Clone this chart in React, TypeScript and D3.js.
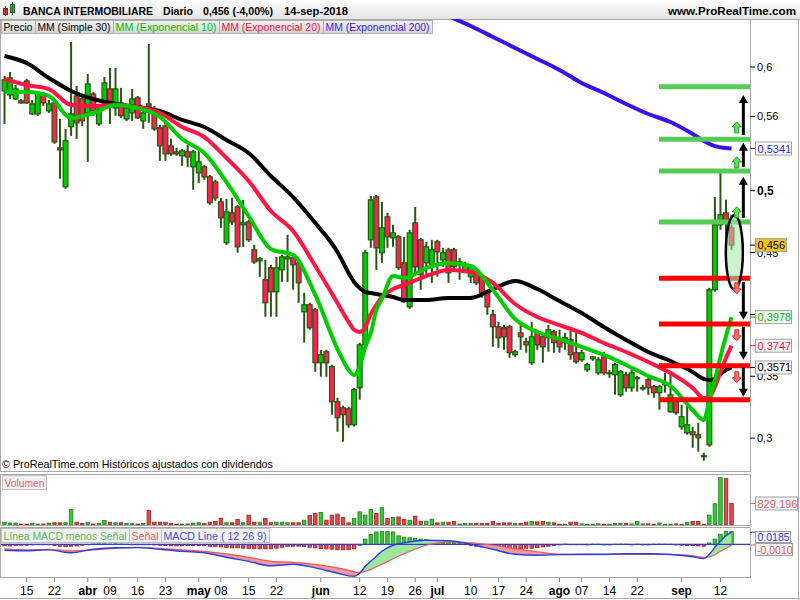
import React from "react";
import * as d3 from "d3";

// ---------- DATA ----------
const openP = [0.5807,0.5774,0.5742,0.5726,0.5888,0.5621,0.5621,0.5782,0.5645,0.5710,0.5346,0.5031,0.5517,0.5766,0.5742,0.5629,0.5782,0.5540,0.5710,0.5823,0.5669,0.5710,0.5580,0.5629,0.5750,0.5564,0.5702,0.5653,0.5508,0.5524,0.5362,0.5314,0.5282,0.5314,0.5193,0.5144,0.5193,0.5112,0.5071,0.4910,0.4579,0.4821,0.4869,0.4724,0.4748,0.4522,0.4433,0.4280,0.4377,0.4183,0.4360,0.4449,0.4457,0.4417,0.4021,0.4078,0.4037,0.3609,0.3698,0.3577,0.3294,0.3245,0.3237,0.3108,0.3407,0.3754,0.4603,0.4950,0.4498,0.4789,0.4619,0.4627,0.4417,0.4061,0.4740,0.4603,0.4417,0.4401,0.4587,0.4441,0.4522,0.4522,0.4401,0.4360,0.4304,0.4344,0.4304,0.4175,0.3997,0.3900,0.3892,0.3900,0.3674,0.3851,0.3779,0.3609,0.3859,0.3819,0.3811,0.3859,0.3795,0.3771,0.3795,0.3690,0.3633,0.3552,0.3641,0.3528,0.3657,0.3520,0.3512,0.3350,0.3512,0.3407,0.3480,0.3399,0.3472,0.3415,0.3367,0.3431,0.3213,0.3294,0.3092,0.3043,0.3051,0.3027,0.2858,0.2946,0.4199,0.4724,0.4821,0.4700];
const highP = [0.5928,0.5960,0.5855,0.5742,0.5904,0.5734,0.5799,0.5799,0.5734,0.5726,0.5581,0.5500,0.6203,0.5847,0.5774,0.5944,0.5799,0.5686,0.5920,0.5993,0.5993,0.5831,0.5702,0.5823,0.5766,0.5645,0.6186,0.5686,0.5532,0.5556,0.5419,0.5346,0.5338,0.5370,0.5330,0.5330,0.5209,0.5128,0.5088,0.4942,0.4934,0.4942,0.4886,0.4926,0.4764,0.4562,0.4465,0.4441,0.4401,0.4465,0.4482,0.4643,0.4474,0.4441,0.4175,0.4094,0.4053,0.3714,0.3714,0.3593,0.3326,0.3262,0.3253,0.3407,0.3771,0.4522,0.4958,0.4966,0.4910,0.4821,0.4724,0.4643,0.4627,0.4684,0.4869,0.4619,0.4587,0.4603,0.4603,0.4538,0.4538,0.4538,0.4457,0.4425,0.4401,0.4360,0.4320,0.4199,0.4037,0.3940,0.3916,0.3916,0.3714,0.3932,0.3811,0.3940,0.3876,0.3835,0.3916,0.3876,0.3876,0.3851,0.3876,0.3851,0.3714,0.3609,0.3665,0.3657,0.3698,0.3552,0.3609,0.3552,0.3536,0.3552,0.3504,0.3431,0.3488,0.3431,0.3431,0.3528,0.3512,0.3326,0.3270,0.3270,0.3092,0.3124,0.2882,0.4215,0.4950,0.5144,0.4926,0.4805];
const lowP = [0.5540,0.5742,0.5734,0.5702,0.5702,0.5613,0.5605,0.5686,0.5629,0.5379,0.5096,0.5015,0.5443,0.5419,0.5524,0.5233,0.5605,0.5524,0.5686,0.5540,0.5605,0.5589,0.5564,0.5564,0.5580,0.5500,0.5548,0.5484,0.5241,0.5241,0.5282,0.5282,0.5201,0.5193,0.5007,0.5063,0.5088,0.4886,0.4918,0.4700,0.4562,0.4724,0.4498,0.4546,0.4587,0.4409,0.4304,0.3981,0.3981,0.3981,0.4263,0.4263,0.4199,0.4094,0.3771,0.3876,0.3536,0.3496,0.3496,0.3189,0.3051,0.2971,0.3084,0.3092,0.3310,0.3738,0.4538,0.4360,0.4417,0.4538,0.4546,0.4360,0.4094,0.4045,0.4320,0.4199,0.4320,0.4255,0.4304,0.4385,0.4255,0.4360,0.4280,0.4336,0.4255,0.4239,0.4134,0.3997,0.3738,0.3730,0.3714,0.3649,0.3657,0.3714,0.3690,0.3593,0.3714,0.3609,0.3698,0.3690,0.3690,0.3714,0.3633,0.3601,0.3617,0.3536,0.3625,0.3512,0.3512,0.3488,0.3350,0.3334,0.3375,0.3375,0.3375,0.3383,0.3350,0.3326,0.3229,0.3367,0.3205,0.3189,0.3068,0.3027,0.2922,0.2890,0.2817,0.2930,0.4183,0.4684,0.4603,0.4522];
const closeP = [0.5896,0.5912,0.5823,0.5710,0.5710,0.5702,0.5791,0.5710,0.5702,0.5395,0.5330,0.5403,0.5621,0.5548,0.5564,0.5863,0.5645,0.5661,0.5871,0.5710,0.5823,0.5605,0.5669,0.5742,0.5589,0.5629,0.5669,0.5500,0.5362,0.5298,0.5298,0.5298,0.5322,0.5273,0.5314,0.5233,0.5112,0.4902,0.4942,0.4781,0.4829,0.4748,0.4546,0.4740,0.4603,0.4425,0.4449,0.4094,0.4183,0.4377,0.4465,0.4465,0.4401,0.4255,0.4078,0.3892,0.3609,0.3674,0.3609,0.3294,0.3165,0.3189,0.3108,0.3391,0.3754,0.4498,0.4926,0.4538,0.4700,0.4627,0.4659,0.4377,0.4102,0.4659,0.4385,0.4320,0.4546,0.4522,0.4506,0.4498,0.4336,0.4385,0.4425,0.4401,0.4385,0.4255,0.4175,0.4061,0.3900,0.3811,0.3819,0.3690,0.3698,0.3819,0.3754,0.3819,0.3754,0.3738,0.3876,0.3771,0.3738,0.3811,0.3674,0.3617,0.3690,0.3593,0.3657,0.3633,0.3528,0.3528,0.3593,0.3536,0.3407,0.3528,0.3488,0.3407,0.3407,0.3367,0.3415,0.3447,0.3350,0.3205,0.3173,0.3108,0.3027,0.3003,0.2849,0.4199,0.4724,0.4805,0.4750,0.4560];
const volume = [79000,60000,60000,15000,15000,55000,15000,20000,55000,70000,70000,70000,590000,90000,45000,90000,15000,45000,160000,90000,70000,70000,45000,45000,15000,45000,560000,90000,90000,90000,45000,15000,15000,20000,55000,70000,40000,90000,120000,250000,70000,70000,200000,70000,370000,90000,90000,240000,70000,90000,90000,70000,70000,70000,170000,355000,435000,470000,170000,370000,410000,275000,65000,240000,500000,370000,590000,435000,660000,240000,275000,300000,200000,170000,330000,130000,130000,210000,65000,90000,90000,120000,15000,40000,40000,40000,40000,40000,120000,40000,65000,65000,40000,40000,90000,120000,105000,120000,90000,65000,10000,10000,90000,90000,25000,10000,10000,25000,10000,10000,40000,40000,40000,25000,120000,25000,25000,10000,65000,10000,10000,25000,10000,90000,120000,120000,10000,370000,820000,1850000,1810000,829196];
const histogram = [-0.0023,-0.0025,-0.0020,-0.0015,-0.0015,-0.0010,-0.0005,-0.0003,-0.0008,-0.0020,-0.0030,-0.0035,-0.0030,-0.0025,-0.0015,-0.0008,0.0005,0.0008,0.0008,0.0005,0.0008,0.0005,0.0003,-0.0003,-0.0005,-0.0003,-0.0005,-0.0010,-0.0015,-0.0020,-0.0023,-0.0025,-0.0023,-0.0023,-0.0020,-0.0020,-0.0023,-0.0030,-0.0035,-0.0040,-0.0050,-0.0055,-0.0055,-0.0060,-0.0065,-0.0068,-0.0070,-0.0070,-0.0070,-0.0060,-0.0045,-0.0035,-0.0030,-0.0030,-0.0035,-0.0045,-0.0055,-0.0065,-0.0070,-0.0075,-0.0085,-0.0085,-0.0085,-0.0070,-0.0015,0.0080,0.0150,0.0190,0.0195,0.0195,0.0190,0.0130,0.0110,0.0100,0.0090,0.0080,0.0070,0.0060,0.0050,0.0040,0.0030,0.0020,0.0010,0.0003,-0.0020,-0.0030,-0.0040,-0.0050,-0.0060,-0.0070,-0.0080,-0.0080,-0.0080,-0.0070,-0.0060,-0.0060,-0.0050,-0.0040,-0.0030,-0.0020,-0.0010,0.0003,-0.0005,-0.0005,-0.0005,-0.0010,0.0003,0.0003,-0.0010,-0.0010,0.0003,0.0003,0.0003,-0.0010,0.0003,-0.0010,-0.0010,0.0003,0.0003,0.0003,0.0002,-0.0010,-0.0015,-0.0020,-0.0020,-0.0025,-0.0030,0.0020,0.0080,0.0155,0.0200,0.0195];

const maIdx = [0,4,8,12,16,20,24,28,32,36,40,44,48,52,56,60,62,63,64,65,66,67,68,70,72,76,80,84,88,92,96,100,104,108,112,116,120,124,126,127,128,129,130,131];
const ema10 = [0.5798,0.5798,0.5766,0.5588,0.5628,0.5693,0.5669,0.5596,0.5418,0.5305,0.5070,0.4795,0.4529,0.4480,0.4157,0.3720,0.3551,0.3510,0.3575,0.3737,0.3850,0.4036,0.4124,0.4310,0.4294,0.4375,0.4416,0.4391,0.4197,0.3963,0.3858,0.3801,0.3737,0.3672,0.3591,0.3502,0.3421,0.3227,0.3146,0.3308,0.3470,0.3656,0.3825,0.3978];
const ema20 = [0.5903,0.5854,0.5822,0.5693,0.5685,0.5693,0.5677,0.5628,0.5515,0.5434,0.5264,0.5078,0.4836,0.4674,0.4391,0.4092,0.3939,0.3874,0.3858,0.3898,0.4003,0.4076,0.4141,0.4205,0.4238,0.4310,0.4359,0.4343,0.4254,0.4084,0.3979,0.3914,0.3850,0.3769,0.3696,0.3615,0.3526,0.3405,0.3324,0.3332,0.3413,0.3534,0.3648,0.3747];
const sma30 = [0.6089,0.6032,0.5911,0.5806,0.5741,0.5701,0.5677,0.5644,0.5572,0.5515,0.5410,0.5305,0.5119,0.4949,0.4739,0.4504,0.4335,0.4262,0.4213,0.4181,0.4173,0.4165,0.4157,0.4141,0.4116,0.4116,0.4133,0.4133,0.4205,0.4270,0.4205,0.4108,0.4011,0.3898,0.3793,0.3696,0.3623,0.3534,0.3478,0.3470,0.3478,0.3518,0.3551,0.3571];
const ema200Idx = [76,80,84,88,92,96,100,104,108,112,116,120,124,126,128,130,131];
const ema200 = [0.6501,0.6412,0.6331,0.6243,0.6154,0.6065,0.5976,0.5871,0.5790,0.5701,0.5620,0.5555,0.5458,0.5402,0.5361,0.5345,0.5341];
const macdLine = [-0.0092,-0.0100,-0.0085,-0.0131,-0.0077,-0.0054,-0.0051,-0.0077,-0.0108,-0.0131,-0.0200,-0.0262,-0.0331,-0.0308,-0.0362,-0.0446,-0.0485,-0.0492,-0.0446,-0.0338,-0.0262,-0.0185,-0.0108,-0.0015,0.0023,0.0062,0.0054,0.0000,-0.0077,-0.0154,-0.0169,-0.0158,-0.0154,-0.0154,-0.0146,-0.0146,-0.0158,-0.0192,-0.0220,-0.0154,-0.0046,0.0046,0.0131,0.0185];
const signalLine = [-0.0069,-0.0085,-0.0077,-0.0100,-0.0085,-0.0062,-0.0046,-0.0062,-0.0085,-0.0108,-0.0146,-0.0200,-0.0262,-0.0277,-0.0308,-0.0362,-0.0400,-0.0423,-0.0431,-0.0415,-0.0385,-0.0346,-0.0308,-0.0223,-0.0146,-0.0015,0.0035,0.0023,-0.0015,-0.0069,-0.0115,-0.0154,-0.0158,-0.0158,-0.0154,-0.0154,-0.0154,-0.0177,-0.0200,-0.0192,-0.0162,-0.0108,-0.0062,-0.0010];

const tickIdx = [4,9,15,19,24,29,35,39,44,49,57,64,69,74,78,84,89,94,100,104,109,114,122,129];
const tickLbl = ["15","22","abr","09","16","23","may","08","15","22","jun","12","19","26","jul","10","17","24","ago","07","14","22","sep","12"];
const priceTicks = [0.3,0.35,0.4,0.45,0.5,0.56,0.6];
const priceTickLbl = ["0,3","0,35","","0,45","0,5","0,56","0,6"];

const greenLevels = [0.5841,0.5416,0.5160,0.4746];
const redLevels = [0.4293,0.3922,0.3585,0.3310];
const arrowFrom = [0.4781,0.5193,0.5451,0.4263,0.3900,0.3569];
const arrowTo = [0.5112,0.5387,0.5774,0.3956,0.3633,0.3334];
const upMarks = [0.5508,0.5225,0.4821];
const downMarks = [0.4215,0.3835,0.3496];

const FONT = "'Liberation Sans', Arial, Helvetica, sans-serif";
const UP = "#00cc00", DOWN = "#ff2052", EDGE = "#2a5614";

export default function App() {
  const N = closeP.length;
  const x = d3.scaleLinear().domain([0, N - 1]).range([4.5, 731.55]);
  const yP = d3.scaleLinear().domain([0.3, 0.6]).range([438.1, 67]);
  const yV = d3.scaleLinear().domain([0, 829196]).range([524.5, 503.5]);
  const yM = d3.scaleLinear().domain([0, 0.02]).range([544.3, 531.3]);
  const R = 750;

  const maLine = (idx: number[]) => d3.line<number>().x((_, k) => x(idx[k])).y(d => yP(d)).curve(d3.curveMonotoneX);
  const macdData = maIdx.map((i, k) => ({ i, m: macdLine[k], s: signalLine[k] }));
  const mLine = d3.line<any>().x(d => x(d.i)).y(d => yM(d.m)).curve(d3.curveMonotoneX);
  const sLine = d3.line<any>().x(d => x(d.i)).y(d => yM(d.s)).curve(d3.curveMonotoneX);
  const aboveM = d3.area<any>().x(d => x(d.i)).y0(528).y1(d => yM(d.m)).curve(d3.curveMonotoneX);
  const belowM = d3.area<any>().x(d => x(d.i)).y0(578).y1(d => yM(d.m)).curve(d3.curveMonotoneX);
  const band = d3.area<any>().x(d => x(d.i)).y0(d => yM(d.s)).y1(d => yM(d.m)).curve(d3.curveMonotoneX);

  const ax = x(N - 1) + 11.8;
  const mx = x(N - 1) + 5.2;

  const valueLabels = [
    { v: 0.5341, txt: "0,5341", color: "#2a1ee8", bg: "#ffffff" },
    { v: 0.456, txt: "0,456", color: "#000000", bg: "#f4c418" },
    { v: 0.3978, txt: "0,3978", color: "#00bb00", bg: "#f4f4f4" },
    { v: 0.3747, txt: "0,3747", color: "#ee1444", bg: "#f4f4f4" },
    { v: 0.3571, txt: "0,3571", color: "#000000", bg: "#f4f4f4" },
  ];

  return (
    <svg width={800} height={600} style={{ position: "absolute", left: 0, top: 0 }} fontFamily={FONT}>
      <defs>
        <linearGradient id="hdr" x1="0" y1="0" x2="0" y2="1">
          <stop offset="0" stopColor="#ffffff" />
          <stop offset="1" stopColor="#e4e4e4" />
        </linearGradient>
        <linearGradient id="lg" x1="0" y1="0" x2="0" y2="1">
          <stop offset="0" stopColor="#f2f2f2" />
          <stop offset="1" stopColor="#d6d6d6" />
        </linearGradient>
        <clipPath id="mainClip"><rect x={1} y={19} width={R - 1} height={452} /></clipPath>
        <clipPath id="macdClip"><rect x={1} y={528} width={R - 1} height={50} /></clipPath>
        <clipPath id="clipAbove"><path d={aboveM(macdData) || ""} /></clipPath>
        <clipPath id="clipBelow"><path d={belowM(macdData) || ""} /></clipPath>
      </defs>
      <rect x={0} y={0} width={800} height={600} fill="#ffffff" />
      {/* header */}
      <rect x={0} y={0} width={800} height={19} fill="url(#hdr)" />
      <line x1={0} y1={19.5} x2={800} y2={19.5} stroke="#a8a8a8" />
      <g>
        <rect x={3.5} y={8.5} width={4} height={6} fill="#e03030" stroke="#802020" />
        <line x1={5.5} y1={6} x2={5.5} y2={16} stroke="#802020" />
        <rect x={10.5} y={4.5} width={4} height={8} fill="#30c030" stroke="#206020" />
        <line x1={12.5} y1={2} x2={12.5} y2={15} stroke="#206020" />
      </g>
      <g fontWeight="bold" fontSize={11} fill="#000">
        <text x={23} y={15} textLength={130} lengthAdjust="spacingAndGlyphs">BANCA INTERMOBILIARE</text>
        <text x={163} y={15} textLength={30} lengthAdjust="spacingAndGlyphs">Diario</text>
        <text x={203} y={15} textLength={70} lengthAdjust="spacingAndGlyphs">0,456 (-4,00%)</text>
        <text x={284} y={15} textLength={64} lengthAdjust="spacingAndGlyphs">14-sep-2018</text>
        <text x={668} y={15} textLength={128} lengthAdjust="spacingAndGlyphs">www.ProRealTime.com</text>
      </g>

      {/* panel borders */}
      <rect x={0.5} y={19.5} width={R} height={452} fill="none" stroke="#a8a8a8" />
      <rect x={0.5} y={474.5} width={R} height={51} fill="none" stroke="#a8a8a8" />
      <rect x={0.5} y={527.5} width={R} height={50} fill="none" stroke="#a8a8a8" />
      <line x1={798.5} y1={19} x2={798.5} y2={600} stroke="#a8a8a8" />
      <line x1={0} y1={598.5} x2={800} y2={598.5} stroke="#a8a8a8" />

      {/* main panel */}
      <g clipPath="url(#mainClip)">
        {closeP.map((c, i) => {
          const o = openP[i];
          const up = c >= o;
          const top = yP(Math.max(o, c));
          const bot = yP(Math.min(o, c));
          return (
            <g key={i}>
              <line x1={x(i)} x2={x(i)} y1={yP(highP[i])} y2={yP(lowP[i])} stroke={EDGE} strokeWidth={2} />
              <rect x={x(i) - 2.4} y={top} width={4.8} height={Math.max(1, bot - top)} fill={up ? UP : DOWN} stroke={EDGE} strokeWidth={1.2} />
            </g>
          );
        })}
        <path d={maLine(maIdx)(sma30) || ""} fill="none" stroke="#000" strokeWidth={4} strokeLinejoin="round" />
        <path d={maLine(maIdx)(ema20) || ""} fill="none" stroke="#ff1744" strokeWidth={4} strokeLinejoin="round" />
        <path d={maLine(maIdx)(ema10) || ""} fill="none" stroke="#00cc00" strokeWidth={4} strokeLinejoin="round" />
        <path d={maLine(ema200Idx)(ema200) || ""} fill="none" stroke="#3a10f0" strokeWidth={4} strokeLinejoin="round" />

        {greenLevels.map((v, k) => (
          <line key={"g" + k} x1={659} x2={R} y1={yP(v)} y2={yP(v)} stroke="#55cc55" strokeWidth={5} />
        ))}
        {redLevels.map((v, k) => (
          <line key={"r" + k} x1={659} x2={R} y1={yP(v)} y2={yP(v)} stroke="#ff0000" strokeWidth={5} />
        ))}
        <ellipse cx={ax - 9} cy={yP(0.4502)} rx={8.5} ry={37} fill="rgba(170,230,170,0.55)" stroke="#000" strokeWidth={2.5} />
        {arrowFrom.map((f, k) => {
          const t = arrowTo[k];
          const yt = yP(t), yf = yP(f);
          const dir = yt < yf ? 1 : -1;
          return (
            <g key={"a" + k}>
              <line x1={ax} x2={ax} y1={yf} y2={yt + dir * 6} stroke="#000" strokeWidth={3} />
              <path d={`M${ax},${yt} L${ax - 4.5},${yt + dir * 8} L${ax + 4.5},${yt + dir * 8} Z`} fill="#000" />
            </g>
          );
        })}
        {upMarks.map((v, k) => {
          const cy = yP(v);
          return (
            <path key={"u" + k} d={`M${mx},${cy - 6} L${mx + 4.5},${cy - 1} L${mx + 2},${cy - 1} L${mx + 2},${cy + 5} L${mx - 2},${cy + 5} L${mx - 2},${cy - 1} L${mx - 4.5},${cy - 1} Z`} fill="#66dd66" stroke="#1f9a1f" strokeWidth={1} />
          );
        })}
        {downMarks.map((v, k) => {
          const cy = yP(v);
          return (
            <path key={"d" + k} d={`M${mx},${cy + 6} L${mx + 4.5},${cy + 1} L${mx + 2},${cy + 1} L${mx + 2},${cy - 5} L${mx - 2},${cy - 5} L${mx - 2},${cy + 1} L${mx - 4.5},${cy + 1} Z`} fill="#f07070" stroke="#cc3333" strokeWidth={1} />
          );
        })}
      </g>

      {/* legend row */}
      {[
        { t: "Precio", x0: 1, x1: 35, c: "#000" },
        { t: "MM (Simple 30)", x0: 35, x1: 113, c: "#000" },
        { t: "MM (Exponencial 10)", x0: 113, x1: 219, c: "#00c000" },
        { t: "MM (Exponencial 20)", x0: 219, x1: 323, c: "#ee1444" },
        { t: "MM (Exponencial 200)", x0: 323, x1: 432, c: "#3a22ee" },
      ].map((l, k) => (
        <g key={"lg" + k}>
          <rect x={l.x0 + 0.5} y={20.5} width={l.x1 - l.x0} height={13} fill="url(#lg)" stroke="#b0b0b0" />
          <text x={l.x0 + 2.5} y={31} fontSize={10.5} fill={l.c} textLength={l.x1 - l.x0 - 5} lengthAdjust="spacingAndGlyphs">{l.t}</text>
        </g>
      ))}
      <text x={2} y={468} fontSize={11} fill="#000" textLength={271} lengthAdjust="spacingAndGlyphs">© ProRealTime.com  Históricos ajustados con dividendos</text>

      {/* price axis */}
      {priceTicks.map((v, k) => (
        <g key={"pt" + k}>
          <line x1={R} x2={R + 5} y1={yP(v)} y2={yP(v)} stroke="#000" />
          {priceTickLbl[k] && (
            <text x={R + 7} y={yP(v) + 4} fontSize={v === 0.5 ? 12 : 11} fontWeight={v === 0.5 ? "bold" : "normal"} fill="#000">{priceTickLbl[k]}</text>
          )}
        </g>
      ))}
      {valueLabels.map((l, k) => (
        <g key={"vl" + k}>
          <line x1={R} x2={R + 5} y1={yP(l.v)} y2={yP(l.v)} stroke={l.color} />
          <rect x={755.5} y={yP(l.v) - 6.5} width={l.txt.length > 5 ? 36 : 31} height={13} fill={l.bg} stroke="#a0a0a0" />
          <text x={757.5} y={yP(l.v) + 4} fontSize={11} fill={l.color}>{l.txt}</text>
        </g>
      ))}

      {/* volume */}
      <rect x={2.5} y={475.5} width={44} height={14} fill="#f2f2f2" stroke="#c0c0c0" />
      <text x={4.5} y={487} fontSize={11} fill="#e06666" textLength={40} lengthAdjust="spacingAndGlyphs">Volumen</text>
      {volume.map((v, i) => {
        const up = closeP[i] >= openP[i];
        return (
          <rect key={"v" + i} x={x(i) - 1.75} y={yV(v)} width={3.5} height={Math.max(0.5, yV(0) - yV(v))} fill={up ? "#33cc33" : "#dd4b4b"} stroke={up ? "#1d7d1d" : "#a02020"} strokeWidth={0.8} />
        );
      })}
      <line x1={R} x2={R + 5} y1={yV(829196)} y2={yV(829196)} stroke="#e06666" />
      <rect x={755.5} y={yV(829196) - 6.5} width={42} height={13} fill="#f4f4f4" stroke="#a0a0a0" />
      <text x={757.5} y={yV(829196) + 4} fontSize={11} fill="#e06666">829.196</text>

      {/* MACD */}
      <g clipPath="url(#macdClip)">
        {histogram.map((h, i) => {
          const up = h >= 0;
          const y0 = yM(0), y1 = yM(h);
          return (
            <rect key={"h" + i} x={x(i) - 1.75} y={Math.min(y0, y1)} width={3.5} height={Math.max(0.5, Math.abs(y1 - y0))} fill={up ? "#33cc33" : "#dd4b4b"} stroke={up ? "#1d7d1d" : "#a02020"} strokeWidth={0.8} />
          );
        })}
        <path d={band(macdData) || ""} fill="#f29a9a" clipPath="url(#clipAbove)" />
        <path d={band(macdData) || ""} fill="#9ee89e" clipPath="url(#clipBelow)" />
        <line x1={1} x2={R} y1={yM(0)} y2={yM(0)} stroke="#2c3ee0" strokeWidth={1.3} />
        <path d={sLine(macdData) || ""} fill="none" stroke="#ee5a5a" strokeWidth={1.2} />
        <path d={mLine(macdData) || ""} fill="none" stroke="#2c3ee0" strokeWidth={1.4} />
      </g>
      <rect x={1.5} y={528.5} width={128} height={14} fill="#f0f0f0" stroke="#c0c0c0" />
      <text x={3.5} y={540} fontSize={10.5} fill="#55bb55" textLength={123} lengthAdjust="spacingAndGlyphs">Línea MACD menos Señal</text>
      <rect x={129.5} y={528.5} width={32} height={14} fill="#f0f0f0" stroke="#c0c0c0" />
      <text x={131.5} y={540} fontSize={10.5} fill="#e06060" textLength={27} lengthAdjust="spacingAndGlyphs">Señal</text>
      <rect x={161.5} y={528.5} width={108} height={14} fill="#f0f0f0" stroke="#c0c0c0" />
      <text x={163.5} y={540} fontSize={10.5} fill="#4050dd" textLength={103} lengthAdjust="spacingAndGlyphs">MACD Line ( 12 26 9)</text>
      <line x1={R} x2={R + 5} y1={yM(0.0185)} y2={yM(0.0185)} stroke="#2c3ee0" />
      <rect x={755.5} y={531.5} width={35} height={11} fill="#f4f4f4" stroke="#a0a0a0" />
      <text x={757.5} y={541} fontSize={10.5} fill="#2c3ee0">0.0185</text>
      <line x1={R} x2={R + 5} y1={yM(-0.001)} y2={yM(-0.001)} stroke="#e06060" />
      <rect x={755.5} y={543.5} width={37} height={12} fill="#f4f4f4" stroke="#a0a0a0" />
      <text x={757} y={553.5} fontSize={10.5} fill="#e06060">-0,0010</text>

      {/* x axis */}
      {tickIdx.map((i, k) => {
        const bold = isNaN(Number(tickLbl[k]));
        return (
          <g key={"xt" + k}>
            <line x1={x(i)} x2={x(i)} y1={578} y2={582} stroke="#808080" />
            <text x={x(i)} y={595} fontSize={12} textAnchor="middle" fontWeight={bold ? "bold" : "normal"} fill="#000">{tickLbl[k]}</text>
          </g>
        );
      })}
    </svg>
  );
}
